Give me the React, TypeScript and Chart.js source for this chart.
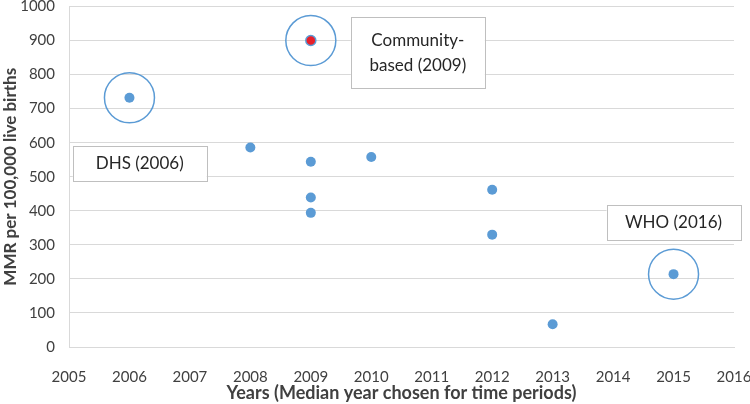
import React, { useEffect, useRef } from "react";
import { Chart, registerables } from "chart.js";
Chart.register(...registerables);

const years = [2006, 2008, 2009, 2009, 2009, 2009, 2010, 2012, 2012, 2013, 2015];
const mmr = [732, 586, 900, 544, 439, 394, 558, 462, 330, 67, 214];
const highlightIdx = [0, 2, 10];
const redIdx = 2;
const xTicks = [2005, 2016];
const yTicks = [0, 1000];
const labelTexts = [["DHS (2006)"], ["Community-", "based (2009)"], ["WHO (2016)"]];
const labelX = [2006.17, 2010.77, 2015.0];
const labelY = [538, 864, 365];

const FONT = "Lato, 'Open Sans', sans-serif";

export default function App() {
  const ref = useRef<HTMLCanvasElement>(null);
  useEffect(() => {
    document.body.style.margin = "0";
    const ctx = ref.current!.getContext("2d")!;
    const overlay = {
      id: "overlay",
      afterDatasetsDraw(chart: any) {
        const c = chart.ctx;
        const xs = chart.scales.x;
        const ys = chart.scales.y;
        c.save();
        highlightIdx.forEach((i) => {
          const px = xs.getPixelForValue(years[i]);
          const py = ys.getPixelForValue(mmr[i]);
          c.beginPath();
          c.arc(px, py, 25, 0, Math.PI * 2);
          c.strokeStyle = "#5b9bd5";
          c.lineWidth = 1.5;
          c.stroke();
        });
        labelTexts.forEach((lines, k) => {
          const cx = xs.getPixelForValue(labelX[k]);
          const cy = ys.getPixelForValue(labelY[k]);
          const w = 134;
          const h = lines.length === 1 ? 35 : 71;
          c.fillStyle = "#ffffff";
          c.fillRect(cx - w / 2, cy - h / 2, w, h);
          c.strokeStyle = "#bfbfbf";
          c.lineWidth = 1;
          c.strokeRect(Math.round(cx - w / 2) + 0.5, Math.round(cy - h / 2) + 0.5, w, h);
          c.fillStyle = "#262626";
          c.font = `17px ${FONT}`;
          c.textAlign = "center";
          c.textBaseline = "middle";
          const lh = 25;
          lines.forEach((t, j) => {
            c.fillText(t, cx, cy + (j - (lines.length - 1) / 2) * lh);
          });
        });
        c.restore();
      },
    };
    const chart = new Chart(ctx, {
      type: "scatter",
      data: {
        datasets: [
          {
            data: years.map((x, i) => ({ x, y: mmr[i] })),
            backgroundColor: years.map((_, i) => (i === redIdx ? "#e8202a" : "#5b9bd5")),
            borderColor: "#5b9bd5",
            borderWidth: years.map((_, i) => (i === redIdx ? 1.5 : 0)),
            pointRadius: 5,
          },
        ],
      },
      options: {
        animation: false,
        responsive: false,
        maintainAspectRatio: false,
        layout: { padding: { left: 0, right: 16, top: 5, bottom: 0 } },
        plugins: { legend: { display: false }, tooltip: { enabled: false } },
        scales: {
          x: {
            type: "linear",
            min: xTicks[0],
            max: xTicks[1],
            grid: { display: false },
            border: { display: true, color: "#d9d9d9" },
            ticks: {
              stepSize: 1,
              color: "#404040",
              font: { family: FONT, size: 15 },
              padding: 13,
              maxRotation: 0,
              callback: (v: any) => String(v),
            },
            title: {
              display: true,
              text: "Years (Median year chosen for time periods)",
              color: "#404040",
              font: { family: FONT, size: 18, weight: "bold" },
              padding: { top: 3, bottom: 0 },
            },
            afterFit: (s: any) => {
              s.height = 57;
              s.paddingLeft = 0;
              s.paddingRight = 0;
            },
          },
          y: {
            min: yTicks[0],
            max: yTicks[1],
            grid: { color: "#d9d9d9", drawTicks: false },
            border: { display: true, color: "#d9d9d9" },
            ticks: {
              stepSize: 100,
              color: "#404040",
              font: { family: FONT, size: 15 },
              padding: 14,
              callback: (v: any) => String(v),
            },
            title: {
              display: true,
              text: "MMR per 100,000 live births",
              color: "#404040",
              font: { family: FONT, size: 17, weight: "bold" },
              padding: { top: 0, bottom: 4 },
            },
            afterFit: (s: any) => {
              s.width = 69;
              s.paddingTop = 0;
              s.paddingBottom = 0;
            },
          },
        },
      },
      plugins: [overlay],
    });
    return () => chart.destroy();
  }, []);
  return (
    <div style={{ width: 750, height: 404 }}>
      <canvas ref={ref} width={750} height={404} style={{ display: "block" }} />
    </div>
  );
}
